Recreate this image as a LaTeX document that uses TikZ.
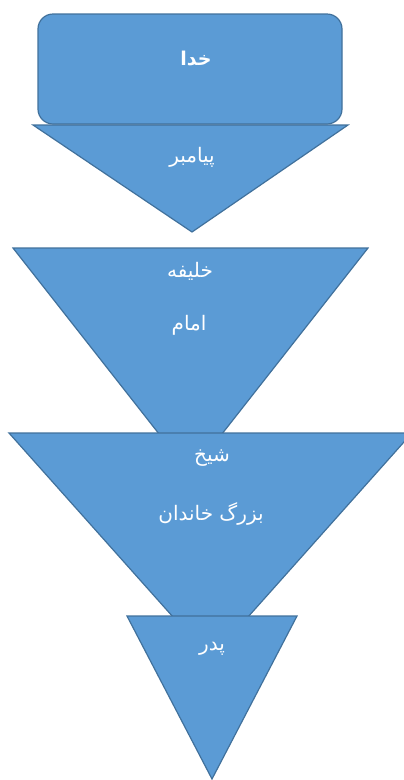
\documentclass[tikz,border=0pt]{standalone}
\usepackage{fontspec}
\newfontfamily\arabicfont[Script=Arabic]{DejaVu Sans}
\TeXXeTstate=1
\usepackage{xcolor}
\definecolor{tierfill}{HTML}{5B9BD5}
\definecolor{tierline}{HTML}{41719C}

\begin{document}
\begin{tikzpicture}[x=1pt, y=-1pt,
  tier/.style={fill=tierfill, draw=tierline, line width=1.2pt},
  tierlabel/.style={font=\arabicfont\fontsize{20}{24}\selectfont, text=white, inner sep=0pt}]
  % page 404x780, y grows downward, 1pt = 1px
  \useasboundingbox (0,0) rectangle (404,780);
  % top box
  \filldraw[tier, rounded corners=15pt] (38,14) rectangle (342,124);
  \node[tierlabel, font=\arabicfont\bfseries\fontsize{19}{22}\selectfont] (god) at (196,59) {\beginR خدا\endR};
  % tier 1
  \filldraw[tier] (33,125) -- (348,125) -- (192,232) -- cycle;
  \node[tierlabel] (prophet) at (192,157) {\beginR پیامبر\endR};
  % tier 2 -- apex hidden under tier 3
  \filldraw[tier] (13,248) -- (368,248) -- (190.5,474) -- cycle;
  \node[tierlabel] (caliph) at (190,271) {\beginR خلیفه\endR};
  \node[tierlabel] (imam) at (189,325) {\beginR امام\endR};
  % tier 3 -- right corner runs off the page
  \filldraw[tier] (9,433) -- (412,433) -- (210.5,659) -- cycle;
  \node[tierlabel] (sheikh) at (212,458) {\beginR شیخ\endR};
  \node[tierlabel] (elder) at (211,514) {\beginR بزرگ خاندان\endR};
  % tier 4
  \filldraw[tier] (127,616) -- (297,616) -- (212,779) -- cycle;
  \node[tierlabel] (father) at (212,649) {\beginR پدر\endR};
\end{tikzpicture}
\end{document}
